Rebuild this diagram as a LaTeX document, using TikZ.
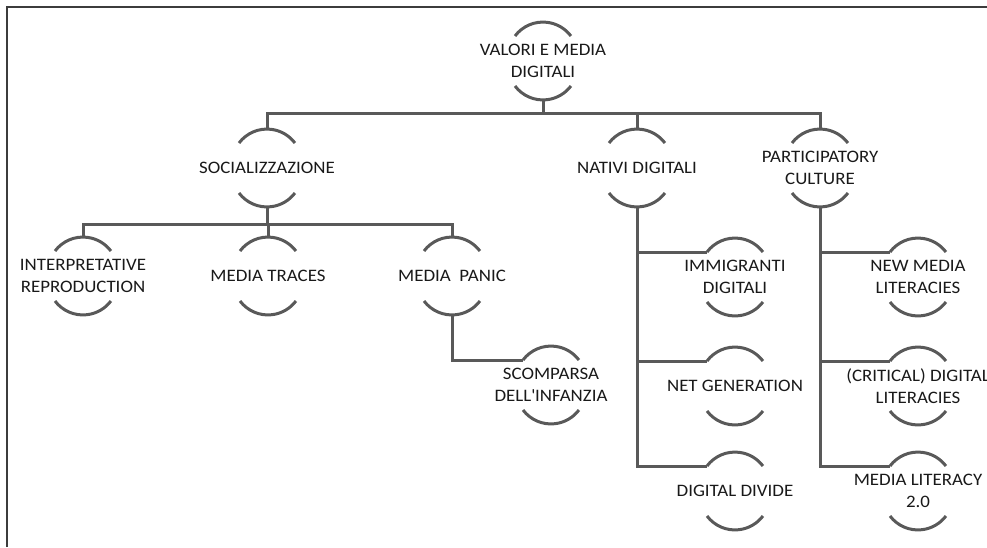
\documentclass[tikz,border=0pt]{standalone}
\usepackage{fontspec}
\newfontfamily\lblfont[FakeStretch=1.08]{Carlito}
\definecolor{linegray}{RGB}{89,89,89}
\definecolor{textgray}{RGB}{25,25,25}
\definecolor{framegray}{RGB}{60,60,60}
\tikzset{
  lbl/.style={font=\lblfont\fontsize{17.5}{21.5}\selectfont, text=textgray, align=center, inner sep=0pt},
  arcline/.style={draw=linegray, line width=3pt},
  conn/.style={draw=linegray, line width=3pt},
  frameline/.style={draw=framegray, line width=1.5pt}
}
% \cnode{name}{x}{y}{text}: label with a cap arc above and a cup arc below
\newcommand{\cnode}[4]{%
  \node[lbl] (#1) at (#2,#3) {#4};
  \coordinate (#1-t) at ([shift={(0,39)}]#1.center);
  \coordinate (#1-b) at ([shift={(0,-39)}]#1.center);
  \coordinate (#1-l) at ([shift={(-28,25)}]#1.center);
  \draw[arcline] ([shift={(-28,25)}]#1.center) arc[start angle=143, end angle=37, radius=35];
  \draw[arcline] ([shift={(-28,-25)}]#1.center) arc[start angle=217, end angle=323, radius=35];
}
\begin{document}
\begin{tikzpicture}[x=1pt, y=1pt]
\useasboundingbox (0,0) rectangle (987,-547);
% frame
\coordinate (fc) at (7,-7);
\coordinate (fb) at (7,-547);
\coordinate (fr) at (987,-7);
\draw[frameline] (fb) -- (fc) -- (fr);

\cnode{root}{543}{-61}{VALORI E MEDIA\\DIGITALI}
\cnode{soc}{267}{-168}{SOCIALIZZAZIONE}
\cnode{nat}{637}{-168}{NATIVI DIGITALI}
\cnode{par}{820}{-168}{PARTICIPATORY\\CULTURE}
\cnode{interp}{83}{-276}{INTERPRETATIVE\\REPRODUCTION}
\cnode{traces}{268}{-276}{MEDIA TRACES}
\cnode{panic}{452}{-276}{MEDIA~ PANIC}
\cnode{scomp}{551}{-385}{SCOMPARSA\\DELL\textquotesingle INFANZIA}
\cnode{immig}{735}{-277}{IMMIGRANTI\\DIGITALI}
\cnode{netgen}{735}{-386}{NET GENERATION}
\cnode{divide}{735}{-491}{DIGITAL DIVIDE}
\cnode{newmedia}{918}{-277}{NEW MEDIA\\LITERACIES}
\cnode{critical}{918}{-386}{(CRITICAL) DIGITAL\\LITERACIES}
\cnode{mlit}{918}{-491}{MEDIA LITERACY\\2.0}

% level 1
\coordinate (bar1) at (0,-113);
\draw[conn] (root-b) -- (root-b |- bar1);
\draw[conn] (soc-t) |- (par-t |- bar1) -- (par-t);
\draw[conn] (nat-t) -- (nat-t |- bar1);
% socializzazione children
\coordinate (bar2) at (0,-224);
\draw[conn] (soc-b) -- (soc-b |- bar2);
\draw[conn] (interp-t) |- (panic-t |- bar2) -- (panic-t);
\draw[conn] (traces-t) -- (traces-t |- bar2);
% media panic
\draw[conn] (panic-b) |- (scomp-l);
% nativi digitali
\draw[conn] (nat-b) |- (divide-l);
\draw[conn] (nat-b |- immig-l) -- (immig-l);
\draw[conn] (nat-b |- netgen-l) -- (netgen-l);
% participatory culture
\draw[conn] (par-b) |- (mlit-l);
\draw[conn] (par-b |- newmedia-l) -- (newmedia-l);
\draw[conn] (par-b |- critical-l) -- (critical-l);
\end{tikzpicture}
\end{document}
